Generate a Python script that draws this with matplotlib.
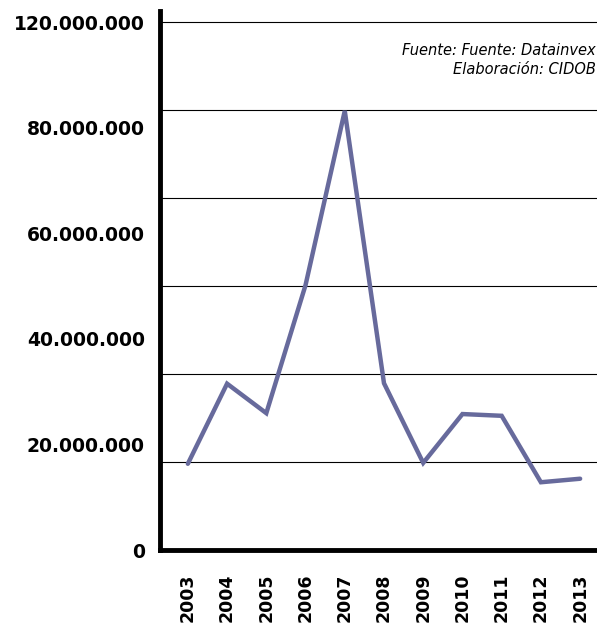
import numpy as np
import matplotlib.pyplot as plt

years = ["2003", "2004", "2005", "2006", "2007", "2008", "2009", "2010", "2011", "2012", "2013"]
values = [19.6e6, 37.8e6, 31.1e6, 60.2e6, 99.8e6, 37.9e6, 19.8e6, 30.9e6, 30.5e6, 15.4e6, 16.2e6]

# las etiquetas del original no coinciden con las lineas de la rejilla
tick_pos = [0, 24e6, 48e6, 72e6, 96e6, 120e6]
tick_labels = ["0", "20.000.000", "40.000.000", "60.000.000", "80.000.000", "120.000.000"]
grid_vals = [20e6, 40e6, 60e6, 80e6, 100e6, 120e6]

line_color = "#676a9c"

fig = plt.figure(figsize=(5.97, 6.26), dpi=100)
ax = fig.add_axes([0.268, 0.1214, 0.732, 0.861])

x = np.arange(len(years))
for g in grid_vals:
    ax.axhline(g, color="black", linewidth=0.8, zorder=1)
ax.plot(x, values, color=line_color, linewidth=3.2, solid_capstyle="round",
        solid_joinstyle="miter", zorder=3)

ax.set_xlim(-0.71, 10.43)
ax.set_ylim(0, 122.5e6)
ax.set_yticks(tick_pos)
ax.set_yticklabels(tick_labels, fontsize=13.5, fontweight="semibold", family="DejaVu Sans")
ax.set_xticks(x)
ax.set_xticklabels(years, rotation=90, fontsize=12.5, fontweight="semibold", family="DejaVu Sans")
ax.tick_params(axis="both", length=0)
ax.tick_params(axis="y", pad=11)
ax.tick_params(axis="x", pad=17)

for s in ["top", "right"]:
    ax.spines[s].set_visible(False)
ax.spines["left"].set_linewidth(3.5)
ax.spines["bottom"].set_linewidth(3.5)

fig.text(0.998, 0.919, "Fuente: Fuente: Datainvex", ha="right", va="center",
         fontsize=10.5, style="italic")
fig.text(0.998, 0.889, "Elaboración: CIDOB", ha="right", va="center",
         fontsize=10.5, style="italic")

plt.savefig("out.png", dpi=100)
